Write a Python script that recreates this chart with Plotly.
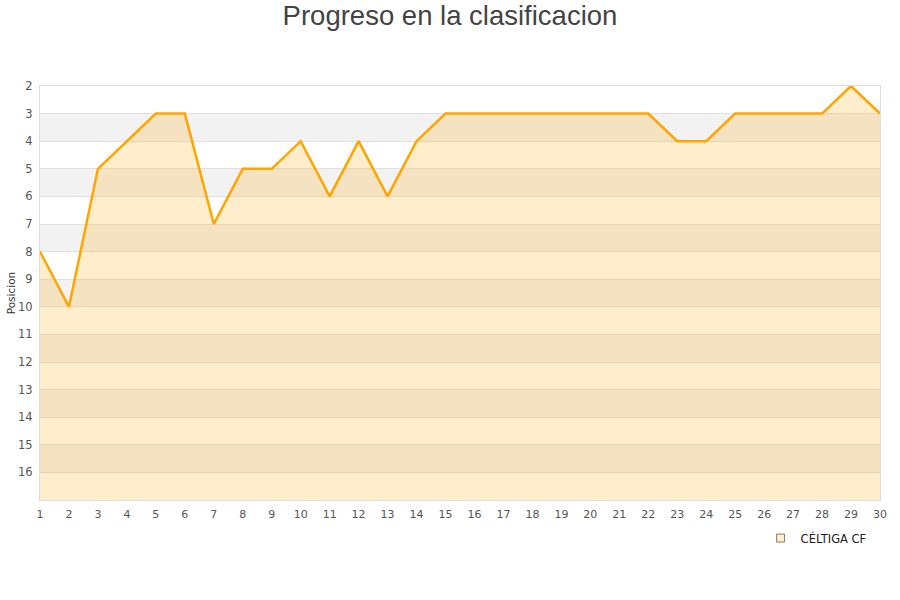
import plotly.graph_objects as go

jornadas = list(range(1, 31))
posiciones = [8, 10, 5, 4, 3, 3, 7, 5, 5, 4, 6, 4, 6, 4, 3, 3, 3, 3, 3, 3, 3, 3, 4, 4, 3, 3, 3, 3, 2, 3]
team = "CÉLTIGA CF"
y_ticks = list(range(2, 17))
y_min, y_max = 2, 17
baseline = [y_max] * len(jornadas)

fig = go.Figure()

# band shapes (alternating)
shapes = []
for v in range(y_min, y_max):
    if (v - y_min) % 2 == 1:
        shapes.append(dict(type="rect", xref="paper", yref="y", x0=0, x1=1, y0=v, y1=v + 1,
                           fillcolor="#F2F2F2", line_width=0, layer="below"))

fig.add_trace(go.Scatter(x=jornadas, y=baseline, mode="lines", line=dict(width=0, color="rgba(0,0,0,0)"),
                         showlegend=False, hoverinfo="skip"))
fig.add_trace(go.Scatter(x=jornadas, y=posiciones, mode="lines", fill="tonexty",
                         fillcolor="rgba(255,165,0,0.2)", line=dict(color="#FFA500", width=2.5),
                         showlegend=False, name=team))
fig.add_trace(go.Scatter(x=[None], y=[None], mode="markers", name=team,
                         marker=dict(symbol="square", size=8, color="#FFEDCC",
                                     line=dict(color="#8a7a5a", width=1))))

fig.update_layout(
    width=900, height=600,
    paper_bgcolor="white", plot_bgcolor="white",
    margin=dict(l=40, r=20, t=86, b=100),
    title=dict(text="Progreso en la clasificacion", x=0.5, xanchor="center", y=0.975, yanchor="middle",
               font=dict(family="Liberation Sans, Arial", size=27.5, color="#444444")),
    shapes=shapes,
    showlegend=True,
    legend=dict(orientation="h", x=0.99, xanchor="right", y=-0.092, yanchor="middle",
                font=dict(family="DejaVu Sans", size=11.5, color="#222222"), bgcolor="rgba(0,0,0,0)"),
    font=dict(family="DejaVu Sans", size=11, color="#555555"),
)
fig.update_xaxes(range=[1, 30], tickvals=jornadas, showgrid=False, zeroline=False, automargin=False,
                 showline=True, linecolor="#DDDDDD", linewidth=1, mirror=True, ticks="",
                 ticklabelstandoff=4,
                 tickfont=dict(size=11, color="#555555"))
fig.update_yaxes(range=[y_max, y_min], tickvals=y_ticks, showgrid=True, gridcolor="#E0E0E0", gridwidth=1,
                 zeroline=False, showline=True, linecolor="#DDDDDD", linewidth=1, mirror=True, ticks="",
                 automargin=False, ticklabelstandoff=4,
                 title=dict(text="Posicion", font=dict(size=10.5, color="#333333"), standoff=0),
                 tickfont=dict(size=11.5, color="#555555"))

fig.write_html("out.html", post_script="document.body.style.margin='0';",
               config={"displayModeBar": False})
